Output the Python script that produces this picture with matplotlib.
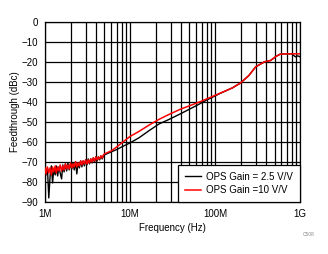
import numpy as np
import matplotlib
matplotlib.use('Agg')
import matplotlib.pyplot as plt
from matplotlib.ticker import FixedLocator, LogLocator, NullFormatter

plt.rcParams['font.family'] = ['Liberation Sans', 'DejaVu Sans']

# noisy low-frequency part (MHz)
noise_freq_mhz = [1.00, 1.03, 1.07, 1.11, 1.15, 1.19, 1.23, 1.27, 1.32, 1.36,
                  1.41, 1.46, 1.51, 1.57, 1.62, 1.68, 1.74, 1.80, 1.86, 1.93,
                  2.00, 2.07, 2.14, 2.21, 2.29, 2.37, 2.45, 2.54, 2.63, 2.72,
                  2.81, 2.91, 3.01, 3.12, 3.23, 3.34, 3.46, 3.58, 3.70, 3.83,
                  3.97, 4.11, 4.25, 4.40, 4.55, 4.71, 4.87]

gain10_noise = [-73.0, -76.0, -72.5, -75.5, -73.0, -76.5, -72.5, -75.0, -72.0, -75.5,
                -72.5, -74.5, -71.5, -74.5, -72.0, -74.0, -71.0, -73.5, -71.5, -73.5,
                -70.5, -73.0, -71.0, -72.5, -70.0, -72.5, -70.5, -72.0, -69.5, -71.5,
                -69.5, -71.0, -69.0, -71.0, -69.0, -70.5, -68.5, -70.0, -68.0, -69.5,
                -67.5, -69.0, -67.5, -68.5, -67.0, -68.0, -66.5]

gain25_noise = [-72.5, -76.5, -73.0, -88.0, -77.0, -72.0, -80.5, -73.5, -76.5, -72.0,
                -77.0, -72.5, -75.5, -78.5, -71.5, -75.0, -71.0, -74.5, -70.5, -74.0,
                -71.0, -73.5, -70.5, -74.0, -70.0, -76.0, -70.5, -73.0, -69.5, -72.5,
                -69.5, -72.0, -69.0, -71.5, -68.5, -71.0, -68.5, -70.5, -68.0, -70.0,
                -67.5, -69.5, -67.5, -69.0, -67.0, -68.5, -67.0]

# smooth upper part (MHz)
gain10_freq_mhz = [5, 6, 7, 8, 9, 10, 12.7, 16.6, 22, 28, 39, 66, 114, 160, 200,
                   250, 300, 330, 380, 450, 520, 580, 650, 800, 1000]
gain10_db = [-66.0, -64.5, -62.5, -60.5, -58.8, -57.3, -54.8, -51.7, -48.7, -46.5,
             -43.7, -40.0, -35.7, -33.0, -30.5, -26.8, -22.5, -21.5, -20.0, -19.3,
             -17.3, -16.2, -16.0, -16.0, -16.0]

gain25_freq_mhz = [5, 6, 7, 8, 10, 12.7, 16.6, 22, 28, 39, 66, 80, 90, 114, 160,
                   200, 250, 300, 330, 380, 450, 520, 580, 650, 800, 880, 940, 1000]
gain25_db = [-66.5, -65.0, -63.8, -62.5, -60.5, -58.0, -54.5, -51.0, -49.0, -46.0,
             -41.0, -39.0, -38.0, -35.8, -33.0, -30.5, -26.8, -22.5, -21.5, -20.0,
             -19.3, -17.3, -16.2, -16.0, -16.0, -17.5, -17.0, -17.5]

xtick_vals = [1e6, 1e7, 1e8, 1e9]
xtick_labels = ['1M', '10M', '100M', '1G']
ytick_vals = list(range(0, -100, -10))

fig = plt.figure(figsize=(3.28, 2.54), dpi=100)
ax = fig.add_axes([0.137, 0.205, 0.778, 0.709])

f25 = np.array(noise_freq_mhz + gain25_freq_mhz) * 1e6
v25 = np.array(gain25_noise + gain25_db)
f10 = np.array(noise_freq_mhz + gain10_freq_mhz) * 1e6
v10 = np.array(gain10_noise + gain10_db)

ax.plot(f25, v25, color='black', lw=1.0, label='OPS Gain = 2.5 V/V', zorder=3)
ax.plot(f10, v10, color='red', lw=1.1, label='OPS Gain =10 V/V', zorder=4)

ax.set_xscale('log')
ax.set_xlim(1e6, 1e9)
ax.set_ylim(-90, 0)
ax.xaxis.set_major_locator(FixedLocator(xtick_vals))
ax.set_xticklabels(xtick_labels)
ax.xaxis.set_minor_locator(LogLocator(base=10, subs=np.arange(2, 10)))
ax.xaxis.set_minor_formatter(NullFormatter())
ax.set_yticks(ytick_vals)

ax.grid(True, which='major', color='black', lw=0.9)
ax.grid(True, which='minor', axis='x', color='black', lw=0.9)
ax.tick_params(which='both', length=0, labelsize=7, pad=5)
for s in ax.spines.values():
    s.set_linewidth(0.9)

ax.set_xlabel('Frequency (Hz)', fontsize=7, labelpad=3)
ax.set_ylabel('Feedthrough (dBc)', fontsize=7, labelpad=1)

leg = ax.legend(loc='lower right', fontsize=7, fancybox=False, framealpha=1,
                edgecolor='black', borderaxespad=0, handlelength=1.6,
                handletextpad=0.6, borderpad=0.7, labelspacing=0.35)
leg.get_frame().set_linewidth(0.9)

fig.text(0.94, 0.07, 'C508', fontsize=3.5, color='#888888', ha='center')

fig.savefig('out.png', dpi=100)
